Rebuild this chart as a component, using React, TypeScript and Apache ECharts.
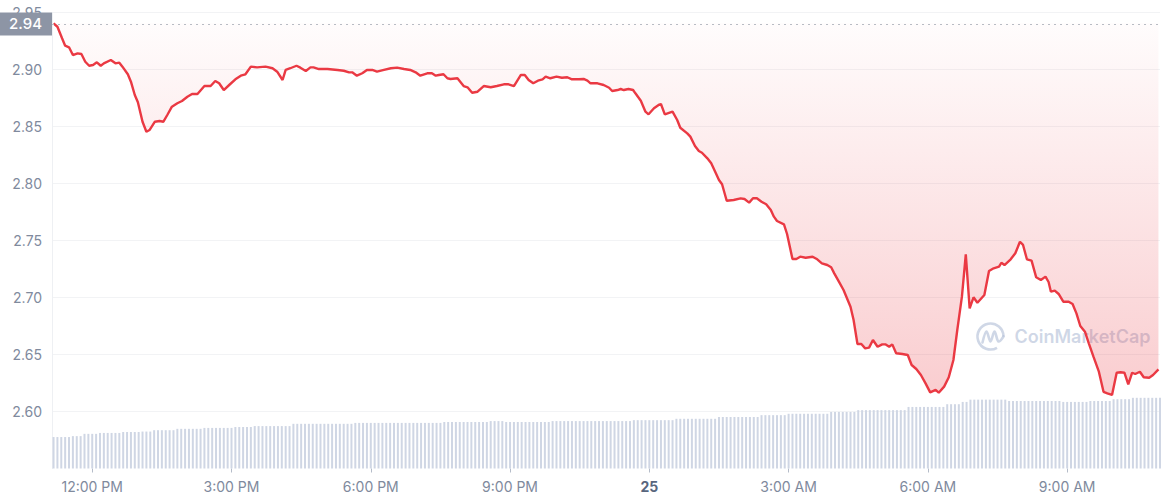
import React, { useEffect, useRef } from "react";
import * as echarts from "echarts";

// x positions are minutes relative to 12:00 PM of the 24th
const xTickMinutes = [0, 180, 360, 540, 720, 900, 1080, 1260];
const xTickLabels = ["12:00 PM", "3:00 PM", "6:00 PM", "9:00 PM", "25", "3:00 AM", "6:00 AM", "9:00 AM"];
const xMin = -52;
const xMax = 1380;

const yTickValues = [2.6, 2.65, 2.7, 2.75, 2.8, 2.85, 2.9, 2.95];
const openPrice = 2.9405;
const openLabel = "2.94";

// [minute, price]
const pricePoints: [number, number][] = [
  [-50, 2.9405], [-45, 2.9375], [-39, 2.9274], [-35, 2.9209], [-30, 2.9195], [-25, 2.9127], [-19, 2.9142], [-14, 2.9136],
  [-9, 2.9068], [-4, 2.9033], [1, 2.9039], [6, 2.9063], [11, 2.9033], [15, 2.9054], [24, 2.9083], [30, 2.9054],
  [35, 2.906], [39, 2.9025], [46, 2.8958], [50, 2.8893], [55, 2.8776], [59, 2.8712], [65, 2.8542], [70, 2.8454],
  [74, 2.8469], [81, 2.8542], [87, 2.8548], [92, 2.8542], [97, 2.8601], [103, 2.8674], [110, 2.8704], [116, 2.8724],
  [123, 2.8761], [129, 2.8785], [136, 2.8785], [145, 2.8855], [153, 2.8855], [159, 2.8899], [164, 2.8879], [170, 2.882],
  [177, 2.8864], [185, 2.8914], [192, 2.8946], [198, 2.8958], [205, 2.9025], [213, 2.9019], [224, 2.9025], [233, 2.9011],
  [239, 2.8981], [246, 2.8908], [250, 2.8996], [256, 2.9011], [264, 2.9033], [269, 2.9016], [276, 2.8987], [282, 2.9019],
  [286, 2.9019], [293, 2.9004], [304, 2.9004], [317, 2.8996], [325, 2.8989], [332, 2.8975], [336, 2.8975], [342, 2.8946],
  [349, 2.8967], [355, 2.8996], [362, 2.8996], [368, 2.8981], [377, 2.8996], [386, 2.9011], [394, 2.9016], [403, 2.9004],
  [411, 2.8996], [418, 2.8975], [424, 2.8946], [433, 2.8967], [439, 2.8967], [444, 2.8946], [448, 2.8952], [454, 2.8958],
  [459, 2.8923], [463, 2.8917], [472, 2.8923], [480, 2.8855], [485, 2.8844], [491, 2.8796], [498, 2.8805], [506, 2.8855],
  [515, 2.8844], [523, 2.8855], [532, 2.887], [538, 2.887], [545, 2.8855], [554, 2.8952], [559, 2.8952], [564, 2.8908],
  [570, 2.8879], [576, 2.8902], [582, 2.8914], [586, 2.8937], [592, 2.8923], [600, 2.8937], [607, 2.8928], [614, 2.8932],
  [620, 2.8914], [629, 2.8914], [635, 2.8917], [640, 2.8902], [644, 2.8879], [653, 2.8879], [661, 2.8864], [668, 2.884],
  [672, 2.8811], [679, 2.882], [683, 2.8829], [687, 2.882], [693, 2.8829], [699, 2.882], [702, 2.8791], [709, 2.8726],
  [715, 2.863], [719, 2.8607], [726, 2.866], [732, 2.8689], [735, 2.8697], [740, 2.8607], [750, 2.863], [756, 2.8557],
  [760, 2.8489], [769, 2.844], [773, 2.8411], [779, 2.8329], [784, 2.8285], [788, 2.827], [795, 2.8221], [800, 2.8177],
  [806, 2.8089], [810, 2.8031], [814, 2.7993], [820, 2.7849], [829, 2.7855], [838, 2.787], [843, 2.7864], [849, 2.7832],
  [854, 2.787], [859, 2.787], [865, 2.784], [871, 2.7818], [877, 2.7768], [881, 2.7709], [885, 2.7671], [894, 2.7642],
  [898, 2.7557], [905, 2.7338], [910, 2.7338], [915, 2.7358], [922, 2.7349], [931, 2.7358], [937, 2.7335], [943, 2.73],
  [950, 2.7285], [955, 2.7265], [959, 2.7212], [965, 2.7139], [971, 2.7066], [980, 2.6919], [984, 2.6803], [989, 2.6592],
  [994, 2.6592], [999, 2.6554], [1004, 2.656], [1009, 2.6627], [1015, 2.6568], [1021, 2.6589], [1025, 2.6589], [1030, 2.6568],
  [1034, 2.6589], [1039, 2.6511], [1047, 2.6504], [1054, 2.6496], [1059, 2.6408], [1065, 2.6373], [1071, 2.632], [1077, 2.6247],
  [1083, 2.6168], [1090, 2.6189], [1094, 2.6165], [1101, 2.6218], [1107, 2.63], [1113, 2.6452], [1118, 2.6715], [1124, 2.7007],
  [1129, 2.7379], [1134, 2.6905], [1139, 2.7002], [1144, 2.6954], [1153, 2.7022], [1159, 2.7232], [1165, 2.7256], [1172, 2.727],
  [1175, 2.7305], [1179, 2.7285], [1187, 2.7335], [1193, 2.7388], [1199, 2.7489], [1203, 2.7461], [1208, 2.7335], [1214, 2.7323],
  [1220, 2.7177], [1226, 2.7154], [1232, 2.7183], [1236, 2.7136], [1239, 2.7051], [1244, 2.706], [1249, 2.7031], [1255, 2.6963],
  [1262, 2.6963], [1267, 2.6943], [1272, 2.6861], [1277, 2.675], [1283, 2.67], [1288, 2.6598], [1294, 2.6481], [1301, 2.6349],
  [1307, 2.6173], [1312, 2.616], [1318, 2.6145], [1324, 2.634], [1329, 2.6344], [1334, 2.634], [1339, 2.6238], [1344, 2.634],
  [1348, 2.6329], [1354, 2.6349], [1359, 2.63], [1366, 2.6296], [1371, 2.632], [1378, 2.637],
];

// 5-minute volume slots, first slot at minute -50
const volumeStartMinute = -50;
const volumeStepMinutes = 5;
const volumes = [
  69, 69, 69, 69, 69, 71, 71, 71, 76, 76, 76, 76, 78, 78, 78, 78, 78, 78, 80, 80,
  80, 80, 80, 81, 81, 81, 84, 84, 84, 84, 84, 84, 87, 87, 87, 87, 87, 87, 87, 89,
  89, 89, 89, 89, 89, 89, 89, 91, 91, 91, 91, 91, 93, 93, 93, 93, 93, 93, 93, 93,
  93, 93, 98, 98, 98, 98, 98, 98, 98, 98, 98, 98, 98, 98, 98, 98, 98, 98, 100, 100,
  100, 100, 100, 100, 100, 100, 100, 100, 100, 100, 100, 100, 100, 100, 100, 100, 100, 100, 100, 100,
  100, 102, 102, 102, 102, 102, 102, 102, 102, 102, 102, 102, 102, 104, 104, 104, 104, 102, 102, 102,
  102, 102, 102, 102, 102, 102, 102, 102, 102, 104, 104, 104, 104, 104, 104, 104, 104, 104, 104, 104,
  104, 104, 104, 104, 104, 104, 104, 104, 104, 104, 106, 106, 106, 106, 106, 106, 106, 106, 106, 106,
  106, 109, 109, 109, 109, 109, 109, 109, 109, 109, 109, 109, 113, 113, 113, 113, 113, 113, 113, 113,
  113, 113, 113, 117, 117, 117, 117, 117, 117, 117, 120, 120, 120, 120, 120, 120, 120, 120, 120, 120,
  120, 124, 124, 124, 124, 124, 124, 124, 128, 128, 128, 128, 128, 128, 128, 128, 128, 128, 128, 128,
  128, 135, 135, 135, 135, 135, 135, 135, 135, 135, 135, 141, 141, 141, 141, 146, 146, 151, 151, 151,
  151, 151, 151, 151, 151, 151, 151, 148, 148, 148, 148, 148, 148, 148, 148, 148, 148, 148, 148, 148,
  148, 146, 146, 146, 146, 146, 146, 146, 148, 148, 148, 148, 148, 148, 152, 152, 152, 152, 152, 155,
  155, 155, 155, 155, 155, 155, 155,
];

const RED = "#ea3943";
const AXIS_TEXT = "#808a9d";

export default function App() {
  const ref = useRef<HTMLDivElement>(null);

  useEffect(() => {
    if (!ref.current) return;
    const chart = echarts.init(ref.current, null, { renderer: "svg" });
    const volumeData = volumes.map((v, i) => [volumeStartMinute + i * volumeStepMinutes, v]);
    const labelMap: Record<number, string> = {};
    xTickMinutes.forEach((m, i) => (labelMap[m] = xTickLabels[i]));
    const wm = "rgba(160,176,206,0.5)";

    const option: any = {
      animation: false,
      textStyle: { fontFamily: "Inter, sans-serif" },
      grid: {
        left: 52,
        right: 1,
        top: 12.5,
        bottom: 31.5,
        containLabel: false,
        outerBoundsMode: "none",
      },
      xAxis: {
        type: "value",
        min: xMin,
        max: xMax,
        splitLine: { show: false },
        axisLine: { show: false, onZero: false },
        axisTick: {
          show: true,
          customValues: xTickMinutes,
          length: 4,
          lineStyle: { color: "#b5bcc9" },
        },
        axisLabel: {
          customValues: xTickMinutes,
          margin: 11,
          fontSize: 14,
          color: AXIS_TEXT,
          fontFamily: "Inter, sans-serif",
          formatter: (v: number) => {
            const s = labelMap[Math.round(v)] ?? "";
            return s === "25" ? "{b|25}" : s;
          },
          rich: {
            b: { fontWeight: 700, color: "#58667e", fontSize: 14, fontFamily: "Inter, sans-serif" },
          },
        },
      },
      yAxis: [
        {
          type: "value",
          min: 2.55,
          max: 2.95,
          interval: 0.05,
          position: "left",
          axisLine: { show: true, onZero: false, lineStyle: { color: "#eef0f3" } },
          axisTick: { show: false },
          splitLine: {
            show: true,
            lineStyle: {
              color: [
                "rgba(0,0,0,0)",
                "#f2f3f5", "#f2f3f5", "#f2f3f5", "#f2f3f5",
                "#f2f3f5", "#f2f3f5", "#f2f3f5", "#f2f3f5",
              ],
            },
          },
          axisLabel: {
            showMinLabel: false,
            margin: 10,
            fontSize: 14,
            color: AXIS_TEXT,
            fontFamily: "Inter, sans-serif",
            formatter: (v: number) => (yTickValues.some((t) => Math.abs(t - v) < 1e-6) ? v.toFixed(2) : ""),
          },
        },
        {
          type: "value",
          min: 0,
          max: 1000,
          show: false,
          splitLine: { show: false },
          axisLine: { onZero: false },
        },
      ],
      series: [
        {
          type: "bar",
          name: "Volume",
          xAxisIndex: 0,
          yAxisIndex: 1,
          data: volumeData,
          barWidth: 2,
          itemStyle: { color: "#cfd6e4" },
          silent: true,
          z: 1,
        },
        {
          type: "line",
          name: "Price",
          xAxisIndex: 0,
          yAxisIndex: 0,
          data: pricePoints,
          showSymbol: false,
          symbol: "none",
          smooth: false,
          lineStyle: { color: RED, width: 2.4 },
          itemStyle: { color: RED },
          areaStyle: {
            origin: openPrice,
            color: new echarts.graphic.LinearGradient(0, 0, 0, 1, [
              { offset: 0, color: "rgba(234,57,67,0.02)" },
              { offset: 1, color: "rgba(234,57,67,0.36)" },
            ]),
          },
          z: 3,
          markLine: {
            silent: true,
            symbol: ["none", "none"],
            lineStyle: { color: "#b8bcc4", type: [2, 4], width: 1 },
            label: {
              show: true,
              position: "start",
              distance: 0,
              formatter: openLabel,
              color: "#ffffff",
              fontSize: 15,
              fontWeight: 500,
              fontFamily: "Inter, sans-serif",
              backgroundColor: "#8d95a5",
              padding: [4, 10, 4, 10],
            },
            data: [{ yAxis: openPrice }],
          },
        },
      ],
      graphic: [
        {
          type: "group",
          left: 975,
          top: 321,
          silent: true,
          z: 2,
          children: [
            {
              type: "arc",
              shape: { cx: 16, cy: 15, r: 13, startAngle: Math.PI / 3, endAngle: Math.PI * 2 },
              style: { stroke: wm, lineWidth: 2.6, fill: "none" },
            },
            {
              type: "polyline",
              shape: {
                points: [[8, 21], [12, 10], [16, 20], [20, 10], [24, 20], [29, 15]],
                smooth: 0.35,
              },
              style: { stroke: wm, lineWidth: 2.6, fill: "none", lineJoin: "round", lineCap: "round" },
            },
            {
              type: "text",
              x: 40,
              y: 15,
              style: {
                text: "CoinMarketCap",
                fontSize: 18,
                fontWeight: 600,
                fontFamily: "Inter, sans-serif",
                fill: wm,
                verticalAlign: "middle",
                align: "left",
              },
            },
          ],
        },
      ],
    };

    chart.setOption(option);
    return () => chart.dispose();
  }, []);

  return (
    <div
      ref={ref}
      style={{ position: "fixed", left: 0, top: 0, width: 1161, height: 500, background: "#ffffff" }}
    />
  );
}
